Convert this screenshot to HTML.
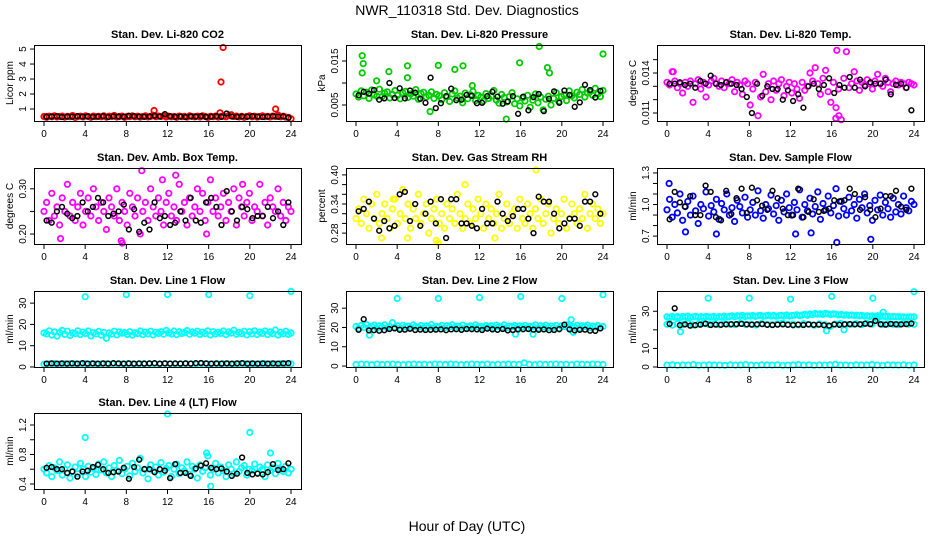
<!DOCTYPE html>
<html><head><meta charset="utf-8"><style>
html,body{margin:0;padding:0;background:#fff;}
svg{display:block;font-family:"Liberation Sans",sans-serif;}
</style></head><body>
<svg id="chart" width="936" height="540" viewBox="0 0 936 540" xmlns="http://www.w3.org/2000/svg">
<rect x="0" y="0" width="936" height="540" fill="#fff"/>
<text x="467" y="15" font-size="14" text-anchor="middle">NWR_110318  Std. Dev. Diagnostics</text>
<text x="467" y="531" font-size="14" text-anchor="middle">Hour of Day (UTC)</text>
<g id="panels"></g>
</svg>
<script>
// ---------- data ----------
const xTicks = [0,4,8,12,16,20,24];
const xTickLabels = ['0','4','8','12','16','20','24'];

const co2Vals = [.5,.45,.52,.48,.55,.47,.5,.53,.46,.51,.49,.56,.44,.5,.52,.47,.54,.5,.45,.53,.49,.51,.48,.55,.46,.52,.5,.57,.47,.5,.53,.45,.51,.49,.55,.48,.52,.46,.5,.54,.47,.51,.58,.49,.53,.5,.55,.47,.52,.48,.5,.45,.53,.49,.51,.46,.54,.5,.48,.52,.47,.55,.5,.44,.51,.49,.53,.46,.5,.52,.48,.56,.62,.5,.53,.47,.51,.45,.5,.54,.48,.52,.46,.5,.55,.49,.51,.47,.53,.5,.6,.48,.52,.46,.45,.35];
const co2Black = [.48,.5,.52,.47,.5,.49,.53,.5,.51,.48,.5,.52,.47,.51,.5,.49,.55,.52,.5,.48,.51,.55,.5,.66,.52,.49,.5,.47,.51,.5,.53,.48,.5,.52,.48,.7,.5,.48,.51,.49,.52,.5,.47,.5,.52,.49,.51,.42];
const co2OutH = [10.7,17.2,17.4,22.5,17.1,0.2];
const co2OutV = [0.9,2.8,5.1,1.0,0.75,0.5];

const presVals = [7.5,6.8,8.2,7.1,7.9,6.5,8.4,7.3,7.0,8.6,6.9,7.7,8.0,6.6,7.4,8.3,7.2,6.4,7.8,8.1,6.7,7.5,7.0,8.5,6.3,7.6,7.9,6.8,7.2,8.0,6.5,7.4,7.1,6.2,7.8,6.9,5.8,7.5,8.2,6.6,7.0,5.5,7.7,6.4,7.3,8.1,6.0,7.2,6.8,5.9,7.6,6.5,7.0,8.3,6.1,5.4,7.4,6.7,5.7,6.9,7.8,5.3,6.4,4.8,6.6,5.9,7.2,4.5,6.1,7.5,5.5,6.8,3.9,6.3,7.0,5.0,6.5,7.8,5.8,6.9,7.3,6.0,8.2,7.1,6.6,7.9,7.4,8.5,6.8,7.7,8.0,7.2,8.8,7.5,6.9,8.3];
const presBlack = [7.2,8.0,7.6,8.4,6.2,6.5,10.0,6.6,8.8,6.5,8.3,7.8,6.4,5.5,11.2,4.3,5.4,7.0,8.7,6.1,6.2,7.3,7.1,5.4,5.5,7.0,8.0,6.9,5.3,5.8,7.0,3.0,6.9,3.8,6.8,7.5,3.6,6.4,8.1,5.5,8.3,7.3,4.6,5.6,9.6,8.4,6.7,8.2];
const presOutH = [0.6,0.7,0.6,2.0,3.2,5.0,5.0,8.0,9.6,10.4,15.9,17.8,18.6,18.8,24.0,14.6,7.2,11.3];
const presOutV = [16.2,14.4,12.3,10.5,12.6,13.9,11.2,14.0,13.1,13.9,14.6,18.3,13.5,12.3,16.6,1.8,3.5,9.4];

const tempVals = [13.3,13.1,14.1,13.4,12.9,13.2,12.5,13.3,13.0,13.4,11.8,13.2,13.5,12.8,13.3,12.2,13.1,13.4,13.6,13.2,13.0,13.4,12.9,13.3,13.2,13.5,12.6,13.3,13.1,12.4,13.4,13.2,11.6,12.8,13.3,10.8,12.2,13.9,12.6,13.2,12.0,13.4,12.7,13.2,13.5,12.3,13.0,13.3,12.5,13.2,12.8,12.1,13.3,12.7,13.0,14.0,13.4,14.4,13.2,12.4,13.6,14.2,12.6,11.8,13.3,11.4,12.8,10.5,13.6,15.6,12.9,13.2,14.1,13.4,12.7,13.3,13.1,13.5,13.2,12.8,13.4,13.9,13.2,13.0,13.6,13.3,12.6,13.2,13.4,13.1,13.3,13.2,12.9,13.3,13.2,13.1];
const tempBlack = [13.2,13.2,13.3,13.1,13.2,12.9,13.4,13.2,13.8,13.2,13.1,13.3,13.2,13.1,12.8,12.2,11.0,13.2,12.3,13.0,12.8,12.8,12.0,12.7,11.9,12.4,11.4,13.0,13.2,12.8,13.1,13.6,12.5,13.1,12.9,13.7,12.9,13.5,13.0,13.3,13.2,13.2,13.5,12.4,13.1,13.2,12.9,11.2];
const tempOutH = [16.5,16.4,16.7,0.6];
const tempOutV = [15.7,10.6,10.8,14.1];

const ambVals = [.25,.27,.23,.29,.24,.26,.22,.28,.25,.31,.24,.27,.23,.26,.29,.22,.25,.28,.24,.3,.26,.23,.27,.25,.21,.28,.26,.24,.3,.23,.27,.25,.22,.29,.26,.24,.28,.2,.25,.27,.23,.3,.26,.24,.28,.25,.22,.27,.29,.24,.26,.23,.31,.25,.27,.22,.28,.24,.26,.3,.25,.29,.23,.27,.32,.25,.28,.24,.26,.29,.23,.27,.25,.3,.22,.28,.26,.24,.27,.29,.23,.26,.25,.31,.24,.27,.22,.28,.26,.25,.3,.24,.27,.23,.26,.25];
const ambBlack = [.23,.225,.25,.26,.245,.235,.24,.27,.25,.26,.28,.27,.24,.245,.25,.265,.21,.255,.205,.225,.21,.27,.235,.24,.22,.225,.25,.23,.28,.23,.225,.27,.28,.26,.22,.295,.25,.23,.26,.255,.235,.24,.24,.26,.235,.25,.22,.27];
const ambOutH = [1.6,7.5,7.6,9.5,12.8,11.5,19.3,15.8];
const ambOutV = [.19,.185,.18,.34,.33,.32,.31,.2];

const rhVals = [.31,.33,.3,.35,.32,.29,.34,.31,.36,.3,.32,.34,.31,.29,.33,.35,.3,.32,.37,.31,.34,.29,.33,.31,.36,.3,.32,.34,.28,.31,.33,.35,.3,.32,.29,.34,.31,.33,.3,.36,.32,.29,.31,.34,.3,.33,.31,.35,.32,.29,.34,.31,.33,.3,.32,.36,.29,.31,.34,.3,.32,.33,.29,.35,.31,.3,.34,.32,.29,.33,.31,.35,.3,.32,.34,.28,.31,.33,.3,.32,.35,.29,.31,.34,.32,.3,.33,.31,.36,.29,.32,.34,.31,.33,.3,.32];
const rhBlack = [.325,.33,.345,.31,.285,.305,.29,.295,.36,.365,.305,.34,.295,.32,.345,.3,.35,.27,.35,.35,.3,.3,.295,.29,.33,.3,.3,.345,.32,.305,.315,.33,.33,.31,.28,.355,.345,.345,.32,.29,.3,.31,.31,.295,.345,.345,.36,.32];
const rhOutH = [17.5,10.6,13.5,2.5,8,5,7.8,3.6];
const rhOutV = [.41,.38,.27,.27,.26,.27,.265,.35];

const flowVals = [.95,1.05,.88,1.0,.92,1.1,.85,.98,1.03,.9,1.08,.94,.82,1.0,.96,1.12,.89,.99,.93,1.05,.86,1.01,.95,1.1,.9,.97,.84,1.04,.98,.92,1.07,.88,.95,1.02,.9,1.13,.94,.87,1.0,.96,1.09,.91,.99,.85,1.04,.93,1.1,.97,.9,1.02,.95,1.14,.88,1.0,.94,1.06,.91,.98,1.12,.86,1.01,.95,1.08,.92,.99,1.15,.89,1.03,.96,.9,1.07,.94,1.0,.87,1.05,.97,1.1,.92,.99,.85,1.04,.95,1.09,.9,1.02,.96,.88,1.06,.93,1.0,.91,1.08,.97,.94,1.03,1.0];
const flowBlack = [.86,1.12,1.02,.98,1.08,.9,.9,1.18,1.12,.88,.85,1.13,.91,1.06,1.15,.92,1.16,1.04,.99,.95,1.13,1.06,.96,.9,.9,1.15,.88,.93,1.05,.93,.94,.96,1.04,1.03,1.04,1.15,1.1,.95,1.07,.95,.88,.96,1.08,1.08,1.13,.98,.95,1.15];
const flowOutH = [0.2,16.5,19.8,12.5,14.0,4.8,1.8];
const flowOutV = [1.2,.64,.67,.72,.73,.72,.74];

const l1Main = [16,15.5,17,15,16.5,14.5,16.2,17.2,15.3,16.8,14.8,16,15.7,17,15.2,16.4,15.8,16.9,14.6,16.1,15.5,16.7,15,16.3,13.5,16,15.4,16.8,15.1,16.5,15.9,16.2,15.3,16.6,15,16.1,15.7,16.9,15.2,16.4,15.6,16.8,15.1,16.3,15.8,16.6,15.4,17.2,16,15.5,16.9,15.2,16.6,15.8,16.2,17.1,15.4,16.5,15.9,16.8,15.3,16.4,15.7,17,15.1,16.6,15.5,16.3,15.8,16.9,15.2,16.5,15.9,17.3,15.4,16.2,15.7,16.8,15.1,16.6,15.6,17,15.3,16.4,15.8,16.9,15.2,16.5,15.7,17.4,15,16.3,15.6,16.8,15.3,16];
const l1Low = [1.3,1.5,1.6,1.4,1.5,1.6,1.5,1.4,1.6,1.5,1.4,1.5,1.6,1.5,1.4,1.5,1.6,1.5,1.4,1.6,1.5,1.5,1.4,1.6,1.5,1.4,1.5,1.6,1.5,1.4,1.6,1.5,1.5,1.4,1.6,1.5,1.4,1.5,1.6,1.5,1.4,1.5,1.6,1.5,1.4,1.6,1.5,1.5];
const l1Black = [1.6,1.7,1.6,1.7,1.6,1.7,1.6,1.8,1.6,1.7,1.6,1.7,1.6,1.8,1.7,1.6,1.7,1.6,1.7,1.6,1.7,1.8,1.6,1.7,1.6,1.7,1.6,1.7,1.6,1.8,1.9,1.7,1.6,1.7,1.6,1.7,1.6,1.7,1.8,1.6,1.7,1.6,1.7,1.6,1.7,1.6,1.7,1.8];
const l1OutH = [4,8,12,16,20,24];
const l1OutV = [33,34,34,34,33.5,35.5];

const l2Main = [20.5,19.5,21,20,21.5,19.8,20.6,21.2,19.6,20.8,20.2,21.4,19.7,20.5,22.5,20.1,20.9,19.5,21.1,20.3,20.7,19.9,21.3,20.4,20.1,21,19.6,20.8,20.2,21.5,19.8,20.6,20.3,21.1,19.7,20.9,20.4,21.3,19.9,20.7,20.1,21.2,19.6,20.5,20.8,19.9,21.4,20.2,20.6,19.8,21,20.3,20.9,19.7,21.2,20.5,20.1,21.3,19.9,20.7,20.4,21,19.6,20.8,20.2,21.1,19.8,20.6,20.5,21.4,19.7,20.9,20.3,21.2,19.9,20.7,20.1,21,19.6,20.8,20.4,21.3,19.8,20.6,20.2,21.1,19.7,20.9,20.5,21.2,19.9,20.7,20.3,21,19.8,20.5];
const l2Low = [.8,1,.9,.7,1,.8,.9,1,.8,.7,.9,1,.8,.9,.7,1,.9,.8,1,.9,.7,.8,1,.9,.8,1,.7,.9,.8,1,.9,.8,1.6,.9,.7,1,.8,.9,1,.8,.9,.7,1,.9,.8,1,.9,.8];
const l2Black = [18.8,24.3,18.5,18.6,18.3,18.6,19.2,19.5,18.8,18.9,19.3,18.7,18.9,18.7,18.8,18.9,19,18.6,19,19.1,18.8,19.2,19.1,19,18.7,19.4,19,18.8,19.2,18.5,18.7,19,19.1,19.2,18.9,18.8,19,18.6,18.7,19.1,21.5,19,18.5,18.8,18.9,18.3,18.2,19.5];
const l2OutH = [4,8,12,16,20,24,1.3,15.5,17.2,20.9,21.1];
const l2OutV = [35,35,35.5,36,35,37,16,16.5,16.5,24,17.5];

const l3Main = [27,26.5,27.3,26.8,27.1,26.6,27.2,26.9,27.4,26.7,27,27.3,26.8,27.1,26.6,27.2,27,26.9,27.3,26.7,27.1,26.8,27.4,27,27.2,27.5,27,27.6,27.3,27.8,27.1,27.5,27.4,27.7,27.2,27.6,27.8,27.3,27.5,27.9,27.4,27.7,27.3,27.6,27.8,27.5,28,27.4,27.7,27.9,28.1,27.6,28,28.3,27.8,28.5,28.2,28.8,28.4,28.6,28.3,28.9,28.5,28.2,28.6,28.4,28,28.3,27.9,28.1,27.8,28,27.7,27.9,27.5,27.8,27.4,27.6,27.2,27.5,27.3,27.6,27.2,27.4,27.1,27.3,27,27.2,27,27.1,26.9,27,26.8,27,26.9,27];
const l3Band = [23,22.5,23.3,22.8,23.5,22.6,23.1,23.4,22.9,23.2,22.7,23.3,23,22.8,23.5,22.9,23.1,22.6,23.4,23,22.8,23.2,23.6,22.9,23.1,22.7,23.3,23,22.5,23.2,22.8,21.8,23.1,23.4,22.9,23,23.3,22.8,23.5,23.1,26,22.9,23.2,23,22.8,23.3,23.1,23];
const l3Black = [23.2,31.6,22.5,22.9,22.3,22.5,22.8,23.3,22.6,22.8,22.7,22.9,23,23.1,23.2,22.9,22.8,23,23.1,22.7,22.6,22.8,22.9,22.7,22.5,22.8,22.6,22.9,22.7,22.8,22.5,22.3,22.9,22.7,23,23.1,22.9,23,23.3,23.1,24.8,23,22.8,23.2,23,22.9,23.1,23.4];
const l3Low = [1,1.2,.9,1.1,1,1.3,.9,1,1.2,1.1,1,.9,1.2,1,1.1,1.3,1,.9,1.2,1.1,1,1.2,.9,1,1.1,1.3,1,1.2,.9,1.1,1,1.2,1.4,1,1.1,.9,1.2,1,1.1,1.3,1,.9,1.2,1.1,1,1.2,.9,1.1];
const l3OutH = [4,8,12,16,20,24,1.3,15.5,17.2,21];
const l3OutV = [37,37,36.5,38,37,40.5,19,19.5,20,29.5];

const l4Vals = [.6,.55,.65,.5,.62,.58,.7,.52,.6,.66,.48,.57,.63,.54,.68,.6,.5,.64,.56,.61,.53,.67,.59,.7,.55,.62,.5,.65,.58,.72,.54,.6,.64,.51,.68,.57,.62,.75,.55,.6,.47,.66,.58,.63,.52,.69,.56,.61,.65,.5,.6,.67,.54,.62,.58,.7,.53,.64,.6,.48,.66,.57,.62,.78,.52,.6,.68,.55,.63,.58,.5,.66,.6,.54,.7,.57,.62,.65,.52,.6,.58,.67,.55,.63,.6,.5,.66,.58,.62,.54,.68,.6,.57,.64,.55,.6];
const l4Black = [.62,.63,.6,.6,.55,.57,.5,.57,.58,.63,.66,.6,.55,.56,.57,.62,.47,.63,.73,.6,.6,.56,.6,.58,.48,.67,.55,.55,.51,.61,.65,.68,.62,.6,.61,.57,.51,.54,.76,.55,.53,.54,.53,.56,.67,.59,.6,.68];
const l4OutH = [4,12,20,16.2,22,15.8];
const l4OutV = [1.03,1.35,1.1,.37,.82,.82];

// ---------- layout ----------
const colLeft = [34, 346, 657];
const rowTop = [45, 168, 291, 413];
const boxW = 267, boxH = 76;
const CYAN = '#00ffff';

const panels = [
 {c:0,r:0,title:'Stan. Dev. Li-820 CO2',ylab:'Licor ppm',ymin:0.2,ymax:5.27,ticks:[1,2,3,4,5],labels:['1','2','3','4','5'],
  series:[{v:co2Vals,col:'#ff0000'},{h:co2OutH,v:co2OutV,col:'#ff0000'},{v:co2Black,col:'#000',off:.25}]},
 {c:1,r:0,title:'Stan. Dev. Li-820 Pressure',ylab:'kPa',ymin:1.36,ymax:18.64,ticks:[5,10,15],labels:['0.005','','0.015'],
  series:[{v:presVals,col:'#00cc00'},{h:presOutH,v:presOutV,col:'#00cc00'},{v:presBlack,col:'#000',off:.25}]},
 {c:2,r:0,title:'Stan. Dev. Li-820 Temp.',ylab:'degrees C',ymin:10.4,ymax:16.1,ticks:[11,12,13,14,15],labels:['0.011','','','0.014',''],
  series:[{v:tempVals,col:'#ff00ff'},{h:tempOutH,v:tempOutV,col:'#ff00ff'},{v:tempBlack,col:'#000',off:.25}]},
 {c:0,r:1,title:'Stan. Dev. Amb. Box Temp.',ylab:'degrees C',ymin:0.178,ymax:0.346,ticks:[.2,.25,.3],labels:['0.20','','0.30'],
  series:[{v:ambVals,col:'#ff00ff'},{h:ambOutH,v:ambOutV,col:'#ff00ff'},{v:ambBlack,col:'#000',off:.25}]},
 {c:1,r:1,title:'Stan. Dev. Gas Stream RH',ylab:'percent',ymin:0.2576,ymax:0.4142,ticks:[.28,.30,.32,.34,.36,.38,.40],labels:['0.28','','','0.34','','','0.40'],
  series:[{v:rhVals,col:'#ffff00'},{h:rhOutH,v:rhOutV,col:'#ffff00'},{v:rhBlack,col:'#000',off:.25}]},
 {c:2,r:1,title:'Stan. Dev. Sample Flow',ylab:'ml/min',ymin:0.625,ymax:1.347,ticks:[.7,.8,.9,1.0,1.1,1.2,1.3],labels:['0.7','','','1.0','','','1.3'],
  series:[{v:flowVals,col:'#0000ff'},{h:flowOutH,v:flowOutV,col:'#0000ff'},{v:flowBlack,col:'#000',off:.25}]},
 {c:0,r:2,title:'Stan. Dev. Line 1 Flow',ylab:'ml/min',ymin:0,ymax:35.7,ticks:[0,10,20,30],labels:['0','10','20','30'],
  series:[{v:l1Main,col:CYAN},{v:l1Low,col:CYAN},{h:l1OutH,v:l1OutV,col:CYAN},{v:l1Black,col:'#000',off:.25}]},
 {c:1,r:2,title:'Stan. Dev. Line 2 Flow',ylab:'ml/min',ymin:-0.5,ymax:38.9,ticks:[0,10,20,30],labels:['0','10','20','30'],
  series:[{v:l2Main,col:CYAN},{v:l2Low,col:CYAN},{h:l2OutH,v:l2OutV,col:CYAN},{v:l2Black,col:'#000',off:.25}]},
 {c:2,r:2,title:'Stan. Dev. Line 3 Flow',ylab:'ml/min',ymin:0,ymax:40.9,ticks:[0,10,20,30],labels:['0','10','','30'],
  series:[{v:l3Main,col:CYAN},{v:l3Band,col:CYAN},{v:l3Low,col:CYAN},{h:l3OutH,v:l3OutV,col:CYAN},{v:l3Black,col:'#000',off:.25}]},
 {c:0,r:3,title:'Stan. Dev. Line 4 (LT) Flow',ylab:'ml/min',ymin:0.332,ymax:1.363,ticks:[.4,.6,.8,1.0,1.2],labels:['0.4','','0.8','','1.2'],
  series:[{v:l4Vals,col:CYAN},{h:l4OutH,v:l4OutV,col:CYAN},{v:l4Black,col:'#000',off:.25}]}
];

const NS = 'http://www.w3.org/2000/svg';
const root = document.getElementById('panels');
function mk(tag, attrs, parent){
  const e = document.createElementNS(NS, tag);
  for (const k in attrs) e.setAttribute(k, attrs[k]);
  parent.appendChild(e);
  return e;
}
function slug(s){return s.toLowerCase().replace(/[^a-z0-9]+/g,'-').replace(/^-|-$/g,'');}

panels.forEach(p=>{
  const L = colLeft[p.c], T = rowTop[p.r], B = T + boxH;
  const xS = h => L + 10 + h/24*247;
  const yS = v => B - (v - p.ymin)/(p.ymax - p.ymin)*boxH;
  const g = mk('g', {}, root);
  
  
  const t = mk('text', {x: L + boxW/2, y: T - 7, 'font-size': 11, 'font-weight': 'bold', 'text-anchor': 'middle'}, g);
  
  
  t.textContent = p.title;
  const pg = mk('g', {fill: 'none'}, g);
  
  
  p.series.forEach(s=>{
    const n = s.v.length;
    const black = s.col === '#000';
    s.v.forEach((v,i)=>{
      const h = s.h ? s.h[i] : (s.off ? (i + 0.5) * 24 / n : i * 24 / (n - 1));
      const c = mk('circle', {cx: xS(h).toFixed(1), cy: yS(v).toFixed(1), r: black ? 2.4 : 2.7, stroke: s.col, 'stroke-width': black ? 1.5 : 1.8}, pg);
      
      
    });
  });
  const box = mk('rect', {x: L + .5, y: T + .5, width: boxW, height: boxH, fill: 'none', stroke: '#000', 'stroke-width': 1}, g);
  
  
  xTicks.forEach((tv,i)=>{
    const x = xS(tv);
    mk('line', {x1: x, x2: x, y1: B + .5, y2: B + 5, stroke: '#000'}, g);
    const tl = mk('text', {x: x, y: B + 16, 'font-size': 10, 'text-anchor': 'middle'}, g);
    
    
    tl.textContent = xTickLabels[i];
  });
  p.ticks.forEach((tv,i)=>{
    const y = yS(tv);
    mk('line', {x1: L - 4, x2: L + .5, y1: y, y2: y, stroke: '#000'}, g);
    if (p.labels[i]) {
      const tl = mk('text', {x: 0, y: 0, 'font-size': 10, 'text-anchor': 'middle', transform: `translate(${L - 8},${y}) rotate(-90)`}, g);
      
      
      tl.textContent = p.labels[i];
    }
  });
  const yl = mk('text', {x: 0, y: 0, 'font-size': 10, 'text-anchor': 'middle', transform: `translate(${L - 21},${T + boxH/2}) rotate(-90)`}, g);
  
  
  yl.textContent = p.ylab;
});
</script>
</body></html>
